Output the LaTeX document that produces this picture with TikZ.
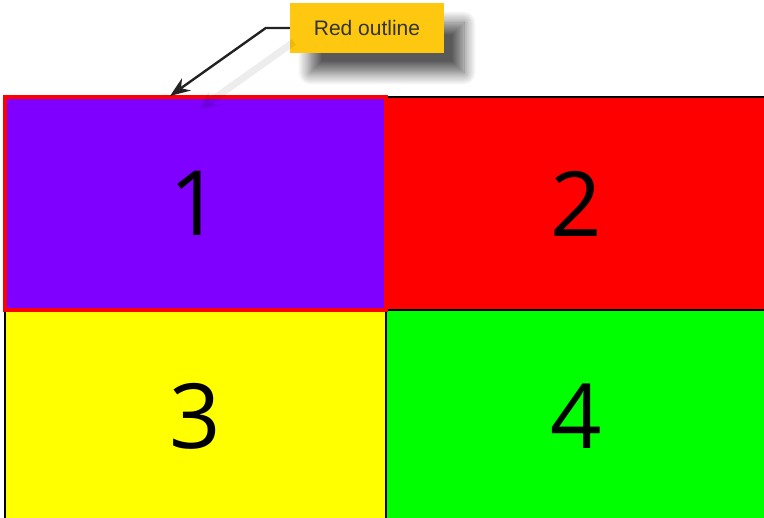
\documentclass[tikz,border=0pt]{standalone}
\usepackage{fontspec}
\setmainfont{Open Sans}
\newfontfamily\calloutfont{Liberation Sans}
\usetikzlibrary{arrows.meta, positioning, calc, shadows.blur}
\definecolor{CellPurple}{HTML}{8000FF}
\definecolor{CellRed}{HTML}{FF0000}
\definecolor{CellYellow}{HTML}{FFFF00}
\definecolor{CellGreen}{HTML}{00FF00}
\definecolor{CalloutGold}{HTML}{FDC80F}
\definecolor{CalloutText}{HTML}{333333}
\definecolor{ArrowDark}{HTML}{222222}
\tikzset{
    % Node styles
    cellbox/.style={
        rectangle,
        draw=black,
        line width=1.5pt,
        minimum width=381pt,
        minimum height=213pt,
        inner sep=0pt,
        outer sep=0pt,
        text centered,
        font=\fontsize{90}{90}\selectfont
    },
    calloutbox/.style={
        rectangle,
        fill=CalloutGold,
        minimum width=154pt,
        minimum height=50pt,
        text=CalloutText,
        font=\calloutfont\fontsize{21}{21}\selectfont,
        blur shadow={shadow xshift=20pt, shadow yshift=-20pt,
            shadow blur radius=12pt, shadow blur steps=12, shadow opacity=65}
    },
    % Arrow styles
    myarrow/.style={
        -{Stealth[length=20pt, width=15pt]},
        line width=2.4pt,
        ArrowDark
    },
    shadowarrow/.style={
        -{Stealth[length=20pt, width=18pt]},
        line width=7pt,
        black,
        opacity=0.07
    }
}
\begin{document}
\begin{tikzpicture}[x=1pt, y=1pt]
    \useasboundingbox (0,0) rectangle (764,518);

    % Grid of cells
    \node[cellbox, fill=CellPurple] (one) at (195.5,314.5) {1};
    \node[cellbox, fill=CellRed, right=0pt of one] (two) {2};
    \node[cellbox, fill=CellYellow, below=0pt of one] (three) {3};
    \node[cellbox, fill=CellGreen, right=0pt of three] (four) {4};

    % Red outline round cell 1
    \draw[CellRed, line width=4pt] (one.south west) rectangle (one.north east);

    % Callout
    \node[calloutbox] (callout) at (367,490) {Red outline};
    \coordinate (bend) at ($(callout.west)+(-24,0)$);
    \coordinate (tip) at ($(one.north west)+(165,1)$);

    % Arrow shadow and arrow
    \draw[shadowarrow] ($(bend)+(28,-14)$) -- ($(tip)+(28,-14)$);
    \draw[myarrow] (callout.west) -- (bend) -- (tip);
\end{tikzpicture}
\end{document}
